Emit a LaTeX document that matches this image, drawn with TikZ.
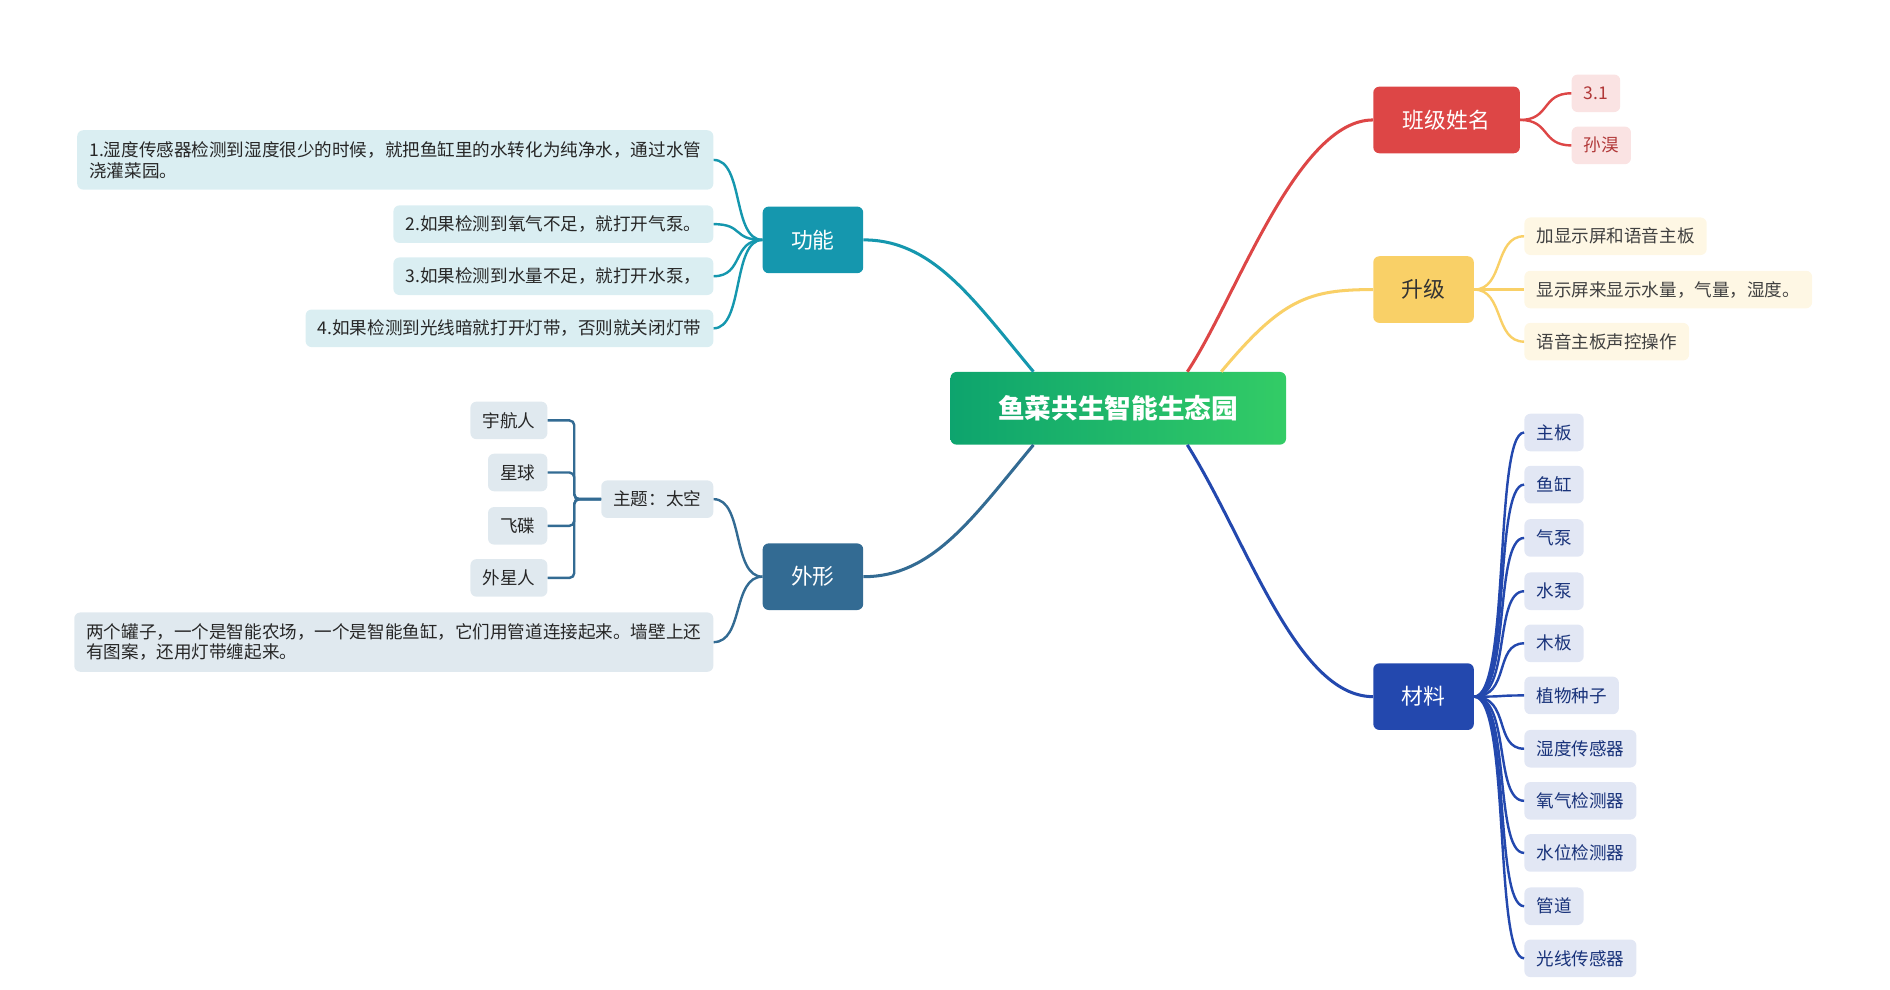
\documentclass[tikz,border=0pt]{standalone}
\usepackage{fontspec}
\setmainfont{Noto Sans CJK SC}
\usetikzlibrary{calc}
\definecolor{cR}{HTML}{DD4646}
\definecolor{cY}{HTML}{F9D067}
\definecolor{cB}{HTML}{2348AE}
\definecolor{cT}{HTML}{1597AE}
\definecolor{cS}{HTML}{336B93}
\tikzset{
 main/.style={rounded corners=5pt,minimum width=83pt,minimum height=55pt,font=\fontsize{18}{20}\selectfont,text=white},
 leaf/.style={rounded corners=5pt,minimum height=31pt,inner xsep=10pt,font=\fontsize{14.5}{17}\selectfont},
 con/.style={line width=2.5pt},
 lcon/.style={line width=2pt}
}
\begin{document}
\begin{tikzpicture}[x=1pt,y=-1pt]
\useasboundingbox (0,0) rectangle (1560,817);
\node[rounded corners=5pt,minimum width=277pt,minimum height=60pt,left color=cT!70!green!90!black,right color=green!50!teal!80,text=white,font=\bfseries\fontsize{22}{24}\selectfont] (c) at (923,337) {鱼菜共生智能生态园};
\node[main,fill=cT] (gn) at (671,198) {功能};
\node[main,fill=cS] (wx) at (671,476) {外形};
\node[main,fill=cR,minimum width=121pt] (bj) at (1194,99) {班级姓名};
\node[main,fill=cY,text=black!80] (sj) at (1175,239) {升级};
\node[main,fill=cB] (cl) at (1175,575) {材料};
% center connectors
\draw[con,cR] ([xshift=57]c.north) .. controls +(40,-60) and (1070,99) .. (bj.west);
\draw[con,cY] ([xshift=85]c.north) .. controls +(50,-60) and (1080,239) .. (sj.west);
\draw[con,cB] ([xshift=57]c.south) .. controls +(50,80) and (1070,575) .. (cl.west);
\draw[con,cT] ([xshift=-70]c.north) .. controls +(-50,-60) and (770,198) .. (gn.east);
\draw[con,cS] ([xshift=-70]c.south) .. controls +(-50,60) and (770,476) .. (wx.east);
% 班级
\foreach \t/\y/\n in {3.1/77/b1,孙淏/120/b2}{
 \node[leaf,anchor=west,fill=cR!15,text=cR!80!black] (\n) at (1297,\y) {\t};
 \draw[lcon,cR] (bj.east) .. controls +(25,0) and ($(\n.west)+(-25,0)$) .. (\n.west);}
% 升级
\foreach \t/\y/\n in {加显示屏和语音主板/195/s1,显示屏来显示水量，气量，湿度。/239/s2,语音主板声控操作/282/s3}{
 \node[leaf,anchor=west,fill=cY!18,text=black!75] (\n) at (1258,\y) {\t};
 \draw[lcon,cY] (sj.east) .. controls +(25,0) and ($(\n.west)+(-25,0)$) .. (\n.west);}
% 材料
\foreach \t/\y/\n in {主板/357/m1,鱼缸/400/m2,气泵/444/m3,水泵/488/m4,木板/531/m5,植物种子/574/m6,湿度传感器/618/m7,氧气检测器/661/m8,水位检测器/704/m9,管道/748/m10,光线传感器/791/m11}{
 \node[leaf,anchor=west,fill=cB!13,text=cB!70!black] (\n) at (1258,\y) {\t};
 \draw[lcon,cB] (cl.east) .. controls +(30,0) and ($(\n.west)+(-25,0)$) .. (\n.west);}
% 功能
\node[leaf,anchor=east,fill=cT!16,text=black!85,align=left,minimum height=49pt] (g1) at (589,132) {1.湿度传感器检测到湿度很少的时候，就把鱼缸里的水转化为纯净水，通过水管\\浇灌菜园。};
\node[leaf,anchor=east,fill=cT!16,text=black!85] (g2) at (589,185) {2.如果检测到氧气不足，就打开气泵。};
\node[leaf,anchor=east,fill=cT!16,text=black!85] (g3) at (589,228) {3.如果检测到水量不足，就打开水泵，};
\node[leaf,anchor=east,fill=cT!16,text=black!85] (g4) at (589,271) {4.如果检测到光线暗就打开灯带，否则就关闭灯带};
\foreach \n in {g1,g2,g3,g4}
 \draw[lcon,cT] (gn.west) .. controls +(-25,0) and ($(\n.east)+(25,0)$) .. (\n.east);
% 外形
\node[leaf,anchor=east,fill=cS!15,text=black!85] (zt) at (589,412) {主题：太空};
\node[leaf,anchor=east,fill=cS!15,text=black!85,align=left,minimum height=49pt] (w2) at (589,530) {两个罐子，一个是智能农场，一个是智能鱼缸，它们用管道连接起来。墙壁上还\\有图案，还用灯带缠起来。};
\foreach \n in {zt,w2}
 \draw[lcon,cS] (wx.west) .. controls +(-25,0) and ($(\n.east)+(25,0)$) .. (\n.east);
\coordinate (br) at (474,412);
\foreach \t/\y/\n in {宇航人/347/z1,星球/390/z2,飞碟/434/z3,外星人/477/z4}{
 \node[leaf,anchor=east,fill=cS!15,text=black!85] (\n) at (452,\y) {\t};
 \draw[lcon,cS,rounded corners=4pt] (\n.east) -| (br) -- (zt.west);}
\end{tikzpicture}
\end{document}
